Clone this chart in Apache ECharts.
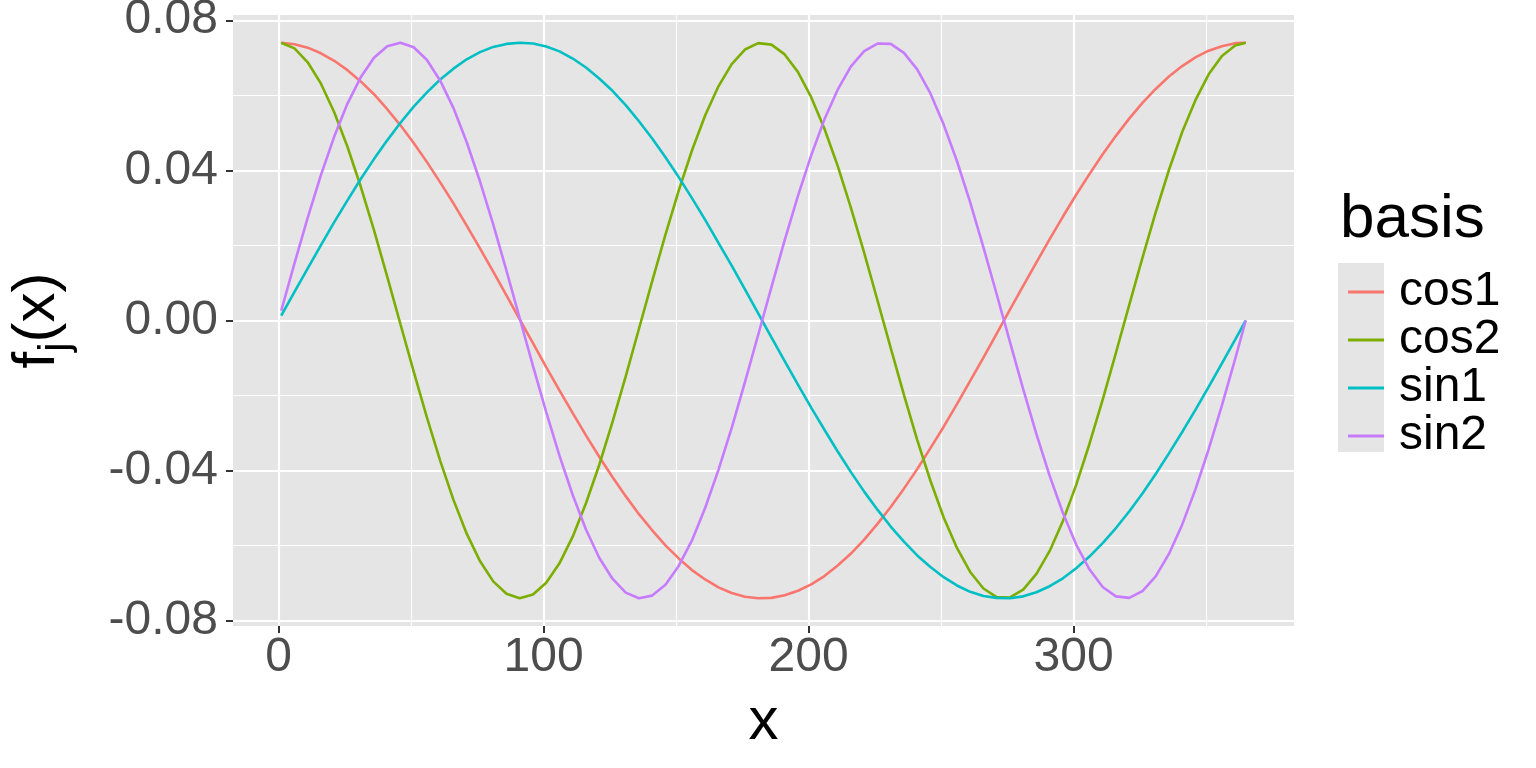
<!DOCTYPE html>
<html>
<head>
<meta charset="utf-8">
<title>basis</title>
<script src="https://cdn.jsdelivr.net/npm/echarts@6/dist/echarts.min.js"></script>
<style>
    html, body { margin: 0; padding: 0; background: #fff; }
    #chart { width: 1536px; height: 768px; }
</style>
</head>
<body>
<div id="chart"></div>
<script>
// day of year
const xDays = [1, 6, 11, 16, 21, 26, 31, 36, 41, 46, 51, 56, 61, 66, 71, 76, 81, 86, 91, 96,
    101, 106, 111, 116, 121, 126, 131, 136, 141, 146, 151, 156, 161, 166, 171, 176, 181, 186, 191, 196,
    201, 206, 211, 216, 221, 226, 231, 236, 241, 246, 251, 256, 261, 266, 271, 276, 281, 286, 291, 296,
    301, 306, 311, 316, 321, 326, 331, 336, 341, 346, 351, 356, 361, 365]

const cos1 = [0.0740, 0.0736, 0.0727, 0.0712, 0.0692, 0.0667, 0.0637, 0.0603, 0.0563, 0.0520,
    0.0473, 0.0422, 0.0368, 0.0312, 0.0253, 0.0192, 0.0130, 0.0067, 0.0003, -0.0060,
    -0.0124, -0.0186, -0.0247, -0.0306, -0.0363, -0.0417, -0.0468, -0.0516, -0.0559, -0.0599,
    -0.0634, -0.0665, -0.0690, -0.0711, -0.0726, -0.0736, -0.0740, -0.0739, -0.0732, -0.0720,
    -0.0703, -0.0681, -0.0653, -0.0621, -0.0584, -0.0542, -0.0497, -0.0448, -0.0396, -0.0340,
    -0.0283, -0.0223, -0.0161, -0.0099, -0.0035, 0.0029, 0.0092, 0.0155, 0.0217, 0.0277,
    0.0335, 0.0390, 0.0443, 0.0492, 0.0538, 0.0580, 0.0617, 0.0650, 0.0678, 0.0701,
    0.0719, 0.0731, 0.0739, 0.0740]
const cos2 = [0.0740, 0.0725, 0.0688, 0.0631, 0.0555, 0.0463, 0.0357, 0.0241, 0.0117, -0.0010,
    -0.0136, -0.0259, -0.0374, -0.0478, -0.0568, -0.0641, -0.0695, -0.0728, -0.0740, -0.0730,
    -0.0699, -0.0647, -0.0576, -0.0487, -0.0385, -0.0271, -0.0149, -0.0022, 0.0105, 0.0229,
    0.0346, 0.0453, 0.0547, 0.0624, 0.0683, 0.0722, 0.0739, 0.0735, 0.0709, 0.0662,
    0.0595, 0.0511, 0.0412, 0.0300, 0.0180, 0.0054, -0.0073, -0.0198, -0.0318, -0.0427,
    -0.0525, -0.0606, -0.0670, -0.0714, -0.0737, -0.0738, -0.0717, -0.0675, -0.0614, -0.0534,
    -0.0438, -0.0329, -0.0211, -0.0086, 0.0041, 0.0167, 0.0288, 0.0401, 0.0502, 0.0587,
    0.0656, 0.0705, 0.0733, 0.0740]
const sin1 = [0.0013, 0.0076, 0.0139, 0.0201, 0.0262, 0.0320, 0.0377, 0.0430, 0.0480, 0.0527,
    0.0570, 0.0608, 0.0642, 0.0671, 0.0696, 0.0715, 0.0729, 0.0737, 0.0740, 0.0738,
    0.0730, 0.0717, 0.0698, 0.0674, 0.0645, 0.0612, 0.0574, 0.0531, 0.0485, 0.0435,
    0.0382, 0.0326, 0.0268, 0.0207, 0.0146, 0.0083, 0.0019, -0.0045, -0.0108, -0.0171,
    -0.0232, -0.0291, -0.0349, -0.0404, -0.0456, -0.0504, -0.0549, -0.0589, -0.0626, -0.0657,
    -0.0684, -0.0706, -0.0723, -0.0734, -0.0739, -0.0740, -0.0735, -0.0724, -0.0708, -0.0687,
    -0.0660, -0.0629, -0.0593, -0.0553, -0.0509, -0.0461, -0.0409, -0.0354, -0.0297, -0.0238,
    -0.0177, -0.0114, -0.0051, 0.0000]
const sin2 = [0.0026, 0.0152, 0.0274, 0.0388, 0.0490, 0.0578, 0.0648, 0.0700, 0.0731, 0.0740,
    0.0728, 0.0694, 0.0639, 0.0566, 0.0475, 0.0371, 0.0256, 0.0133, 0.0006, -0.0121,
    -0.0244, -0.0360, -0.0465, -0.0557, -0.0632, -0.0688, -0.0725, -0.0740, -0.0733, -0.0704,
    -0.0654, -0.0586, -0.0499, -0.0398, -0.0286, -0.0164, -0.0038, 0.0089, 0.0214, 0.0332,
    0.0440, 0.0536, 0.0615, 0.0677, 0.0718, 0.0738, 0.0737, 0.0713, 0.0669, 0.0605,
    0.0522, 0.0425, 0.0315, 0.0195, 0.0070, -0.0057, -0.0183, -0.0303, -0.0414, -0.0513,
    -0.0597, -0.0663, -0.0710, -0.0735, -0.0739, -0.0721, -0.0682, -0.0622, -0.0544, -0.0450,
    -0.0343, -0.0226, -0.0102, 0.0000]

const basisNames = ['cos1', 'cos2', 'sin1', 'sin2']
const basisValues = [cos1, cos2, sin1, sin2]

const xTicks = [0, 100, 200, 300]
const xMinorTicks = [50, 150, 250, 350]
const yTicks = [-0.08, -0.04, 0, 0.04, 0.08]
const yMinorTicks = [-0.06, -0.02, 0.02, 0.06]

const colors = ['#F8766D', '#7CAE00', '#00BFC4', '#C77CFF']
const FONT = "'Liberation Sans', Arial, sans-serif"
const X_RANGE = [-17.2, 383.2]
const Y_RANGE = [-0.0814, 0.0814]

function hiddenAxis(type, ticks, width) {
    // extra axis only used for its grid lines
    return {
        type: 'value',
        min: type === 'x' ? X_RANGE[0] : Y_RANGE[0],
        max: type === 'x' ? X_RANGE[1] : Y_RANGE[1],
        axisLine: { show: false, onZero: false },
        axisLabel: { show: false, customValues: ticks },
        axisTick: { show: false, customValues: ticks },
        splitLine: { show: true, lineStyle: { color: '#ffffff', width: width } }
    }
}

const chart = echarts.init(document.getElementById('chart'))
chart.setOption({
    animation: false,
    color: colors,
    textStyle: { fontFamily: FONT },
    grid: {
        left: 233,
        right: 242,
        top: 15,
        bottom: 142,
        outerBoundsMode: 'none',
        containLabel: false,
        show: true,
        backgroundColor: '#E5E5E5',
        borderWidth: 0
    },
    title: {
        text: 'basis',
        left: 1335,
        top: 184,
        textStyle: { fontSize: 62, fontWeight: 'normal', color: '#000', fontFamily: FONT }
    },
    legend: {
        orient: 'vertical',
        left: 1343,
        top: 263,
        icon: 'rect',
        itemWidth: 36,
        itemHeight: 3,
        itemGap: 0,
        data: basisNames,
        textStyle: { fontSize: 48, color: '#000', lineHeight: 47, padding: [0, 0, 0, 10], fontFamily: FONT }
    },
    graphic: [{
        type: 'rect',
        shape: { x: 1338, y: 263, width: 46, height: 189 },
        style: { fill: '#E5E5E5' },
        z: 0
    }],
    xAxis: [{
        type: 'value',
        min: X_RANGE[0],
        max: X_RANGE[1],
        name: 'x',
        nameLocation: 'middle',
        nameGap: 66,
        nameTextStyle: { fontSize: 60, color: '#000', fontFamily: FONT },
        axisLine: { show: false, onZero: false },
        axisTick: { show: true, length: 7, customValues: xTicks, lineStyle: { color: '#333333', width: 2 } },
        axisLabel: { customValues: xTicks, fontSize: 48, color: '#4D4D4D', margin: 8, fontFamily: FONT },
        splitLine: { show: true, lineStyle: { color: '#ffffff', width: 2.2 } }
    }, hiddenAxis('x', xMinorTicks, 1.1)],
    yAxis: [{
        type: 'value',
        min: Y_RANGE[0],
        max: Y_RANGE[1],
        name: '{f|f}{s|j}{f|(x)}',
        nameLocation: 'middle',
        nameRotate: 90,
        nameGap: 156,
        nameTextStyle: {
            color: '#000',
            fontFamily: FONT,
            rich: {
                f: { fontSize: 60, color: '#000', fontFamily: FONT },
                s: { fontSize: 42, color: '#000', fontFamily: FONT, lineHeight: 80, verticalAlign: 'bottom' }
            }
        },
        axisLine: { show: false, onZero: false },
        axisTick: { show: true, length: 7, customValues: yTicks, lineStyle: { color: '#333333', width: 2 } },
        axisLabel: {
            customValues: yTicks,
            fontSize: 48,
            color: '#4D4D4D',
            margin: 15,
            fontFamily: FONT,
            formatter: function (v) { return v.toFixed(2) }
        },
        splitLine: { show: true, lineStyle: { color: '#ffffff', width: 2.2 } }
    }, hiddenAxis('y', yMinorTicks, 1.1)],
    series: basisNames.map(function (name, k) {
        return {
            name: name,
            type: 'line',
            xAxisIndex: 0,
            yAxisIndex: 0,
            symbol: 'none',
            z: 5,
            lineStyle: { width: 2.6, color: colors[k] },
            itemStyle: { color: colors[k] },
            data: xDays.map(function (d, i) { return [d, basisValues[k][i]] })
        }
    })
})
</script>
</body>
</html>
